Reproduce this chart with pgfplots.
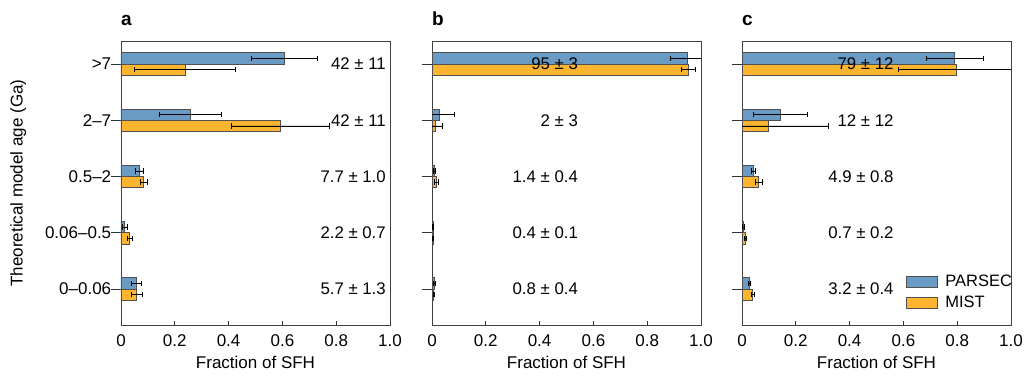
\documentclass[border=0pt]{standalone}
\usepackage{pgfplots}
\pgfplotsset{compat=1.18}
\usepackage{fontspec}
\setmainfont{Liberation Sans}
\definecolor{cblue}{HTML}{6A9BC5}
\definecolor{corange}{HTML}{FDB52F}
\definecolor{cedge}{HTML}{505050}
\tikzset{
  lab/.style={anchor=east, font=\fontsize{16.8}{20}\selectfont, inner sep=0pt},
  plet/.style={anchor=base west, font=\fontsize{19}{22}\selectfont\bfseries, inner sep=0pt},
}
\pgfplotsset{
  panel/.style={
    scale only axis, width=269pt, height=284pt,
    xmin=0, xmax=1, ymin=-0.64, ymax=4.41,
    clip mode=individual,
    xtick={0,0.2,0.4,0.6,0.8,1.0},
    xticklabels={0,0.2,0.4,0.6,0.8,1.0},
    ytick={0,1,2,3,4},
    /pgf/number format/assume math mode=true,
    tick label style={font=\fontsize{17}{20}\selectfont},
    label style={font=\fontsize{17}{20}\selectfont},
    xlabel={Fraction of SFH},
    axis line style={black!75, line width=0.7pt},
    tick style={black!80, line width=0.7pt},
    xtick pos=bottom, ytick pos=left,
    x tick style={/pgfplots/major tick length=4pt},
    xtick align=inside,
    y tick style={/pgfplots/major tick length=10pt},
    ytick align=center,
    xbar, bar shift=0pt, bar width=0.2,
    xticklabel style={yshift=-6.5pt},
    xlabel style={yshift=-2.5pt},
    error bars/error bar style={black, line width=0.6pt},
    error bars/error mark options={rotate=90, mark size=2.7pt, line width=0.6pt, black},
  },
  bblue/.style={fill=cblue, draw=cedge, line width=0.8pt, error bars/.cd, x dir=both, x explicit},
  borange/.style={fill=corange, draw=cedge, line width=0.8pt, error bars/.cd, x dir=both, x explicit},
}
\begin{document}
\begin{tikzpicture}
% ---------------- panel a
\begin{axis}[panel, at={(0pt,0pt)},
  yticklabels={0--0.06,0.06--0.5,0.5--2,2--7,>7},
  yticklabel style={xshift=-2pt},
  ylabel={Theoretical model age (Ga)},
  ylabel style={yshift=12pt}]
\addplot[bblue] table[x=x, y=y, x error=e] {
x y e
0.608 4.1 0.122
0.259 3.1 0.115
0.069 2.1 0.014
0.014 1.1 0.009
0.057 0.1 0.019
};
\addplot[borange] table[x=x, y=y, x error=e] {
x y e
0.238 3.9 0.188
0.592 2.9 0.182
0.085 1.9 0.013
0.033 0.9 0.010
0.059 -0.1 0.019
};
\node[lab] at (axis cs:0.985,4) {42 ± 11};
\node[lab] at (axis cs:0.985,3) {42 ± 11};
\node[lab] at (axis cs:0.985,2) {7.7 ± 1.0};
\node[lab] at (axis cs:0.985,1) {2.2 ± 0.7};
\node[lab] at (axis cs:0.985,0) {5.7 ± 1.3};
\node[plet] at (rel axis cs:0,1) [yshift=15pt] {a};
\end{axis}
% ---------------- panel b
\begin{axis}[panel, at={(311pt,0pt)}, yticklabels={}]
\addplot[bblue] table[x=x, y=y, x error=e] {
x y e
0.949 4.1 0.063
0.028 3.1 0.055
0.009 2.1 0.004
0.004 1.1 0.002
0.009 0.1 0.004
};
\addplot[borange] table[x=x, y=y, x error=e] {
x y e
0.953 3.9 0.025
0.014 2.9 0.026
0.015 1.9 0.008
0.004 0.9 0.002
0.006 -0.1 0.003
};
\node[lab] at (axis cs:0.543,4) {95 ± 3};
\node[lab] at (axis cs:0.543,3) {2 ± 3};
\node[lab] at (axis cs:0.543,2) {1.4 ± 0.4};
\node[lab] at (axis cs:0.543,1) {0.4 ± 0.1};
\node[lab] at (axis cs:0.543,0) {0.8 ± 0.4};
\node[plet] at (rel axis cs:0,1) [yshift=15pt] {b};
\end{axis}
% ---------------- panel c
\begin{axis}[panel, at={(621pt,0pt)}, yticklabels={},
  legend style={at={(0.596,0.04)}, anchor=south west, draw=none, fill=none,
    font=\fontsize{16.5}{19}\selectfont, row sep=4pt},
  legend image code/.code={\draw[#1, line width=0.8pt] (0pt,-5.5pt) rectangle (31pt,5.5pt); \path (37pt,0pt);},
  legend cell align=left]
\addplot[bblue] table[x=x, y=y, x error=e] {
x y e
0.791 4.1 0.106
0.142 3.1 0.100
0.041 2.1 0.007
0.005 1.1 0.003
0.026 0.1 0.004
};
\addlegendentry{PARSEC}
\addplot[borange] table[x=x, y=y, x error=e] {
x y e
0.797 3.9 0.217
0.098 2.9 0.221
0.061 1.9 0.013
0.012 0.9 0.003
0.040 -0.1 0.007
};
\addlegendentry{MIST}
\node[lab] at (axis cs:0.564,4) {79 ± 12};
\node[lab] at (axis cs:0.564,3) {12 ± 12};
\node[lab] at (axis cs:0.564,2) {4.9 ± 0.8};
\node[lab] at (axis cs:0.564,1) {0.7 ± 0.2};
\node[lab] at (axis cs:0.564,0) {3.2 ± 0.4};
\node[plet] at (rel axis cs:0,1) [yshift=15pt] {c};
\end{axis}
\pgfresetboundingbox
\path[use as bounding box] (-121pt,-54pt) rectangle (904pt,325pt);
\end{tikzpicture}
\end{document}
